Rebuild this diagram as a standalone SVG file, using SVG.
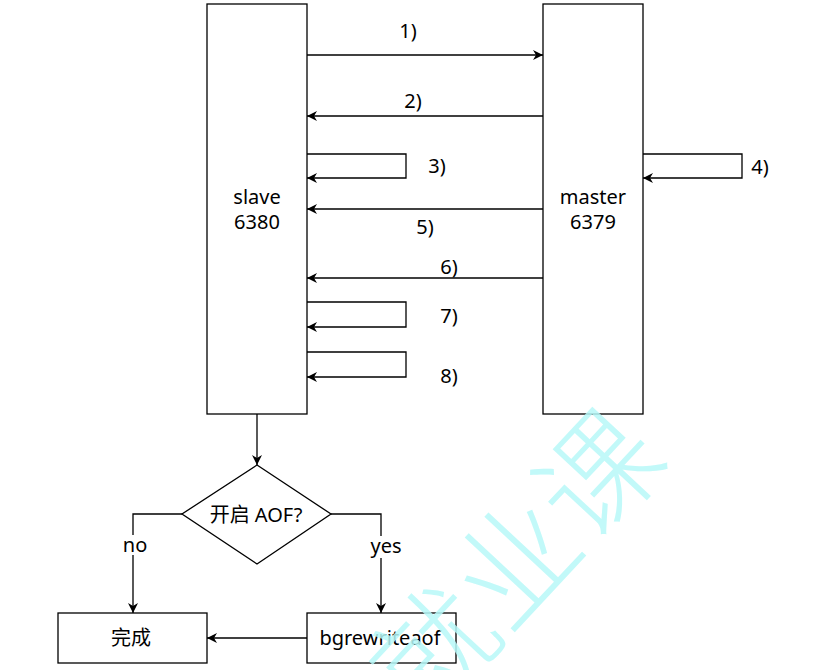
<svg xmlns="http://www.w3.org/2000/svg" width="830" height="670" viewBox="0 0 830 670">
<defs>
<marker id="arr" markerWidth="12" markerHeight="10" refX="10" refY="5" orient="auto" markerUnits="userSpaceOnUse">
<path d="M0,0 L10,5 L0,10 L3,5 Z" fill="#000"/>
</marker>
<style>
.box{fill:#fff;stroke:#000;stroke-width:1.3}
.ln{fill:none;stroke:#000;stroke-width:1.3;marker-end:url(#arr)}
.t{font-family:"Noto Sans","Noto Sans CJK SC",sans-serif;font-size:20px;fill:#000;text-anchor:middle}
.wm{font-family:"Noto Sans CJK SC",sans-serif;font-size:120px;font-weight:300;fill:#b8f9f9;opacity:0.85}
</style>
</defs>
<rect width="830" height="670" fill="#fff"/>
<g id="slave"><rect class="box" x="207" y="4" width="100" height="410"/><text class="t" x="257" y="204">slave</text><text class="t" x="257" y="229">6380</text></g>
<g id="master"><rect class="box" x="543" y="4" width="100" height="410"/><text class="t" x="593" y="204">master</text><text class="t" x="593" y="229">6379</text></g>
<g id="decision"><polygon class="box" points="257,465 331,514 257,564 182,514"/><text class="t" x="256" y="522">开启 AOF?</text></g>
<g id="done"><rect class="box" x="58" y="613" width="149" height="50"/><text class="t" x="131" y="645">完成</text></g>
<g id="bgrewrite"><rect class="box" x="307" y="613" width="149" height="50"/><text class="t" x="380" y="645">bgrewriteaof</text></g>
<g id="connectors">
<path class="ln" d="M307,55 H543"/>
<path class="ln" d="M543,116 H307"/>
<path class="ln" d="M307,154 H406 V178 H307"/>
<path class="ln" d="M643,154 H742 V178 H643"/>
<path class="ln" d="M543,209 H307"/>
<path class="ln" d="M543,278 H307"/>
<path class="ln" d="M307,302 H406 V327 H307"/>
<path class="ln" d="M307,352 H406 V377 H307"/>
<path class="ln" d="M257,414 V465"/>
<path class="ln" d="M182,514 H133 V613"/>
<path class="ln" d="M331,514 H381 V613"/>
<path class="ln" d="M307,638 H207"/>
<rect x="121" y="535" width="28" height="20" fill="#fff"/>
<rect x="369" y="536" width="36" height="22" fill="#fff"/>
<text class="t" x="135" y="552">no</text>
<text class="t" x="386" y="553">yes</text>
<text class="t" x="408" y="38">1)</text>
<text class="t" x="413" y="108">2)</text>
<text class="t" x="437" y="173">3)</text>
<text class="t" x="760" y="174">4)</text>
<text class="t" x="425" y="234">5)</text>
<text class="t" x="449" y="274">6)</text>
<text class="t" x="449" y="323">7)</text>
<text class="t" x="449" y="383">8)</text>
</g>
<text class="wm" transform="translate(426,724) rotate(-47)">就业课</text>
</svg>
